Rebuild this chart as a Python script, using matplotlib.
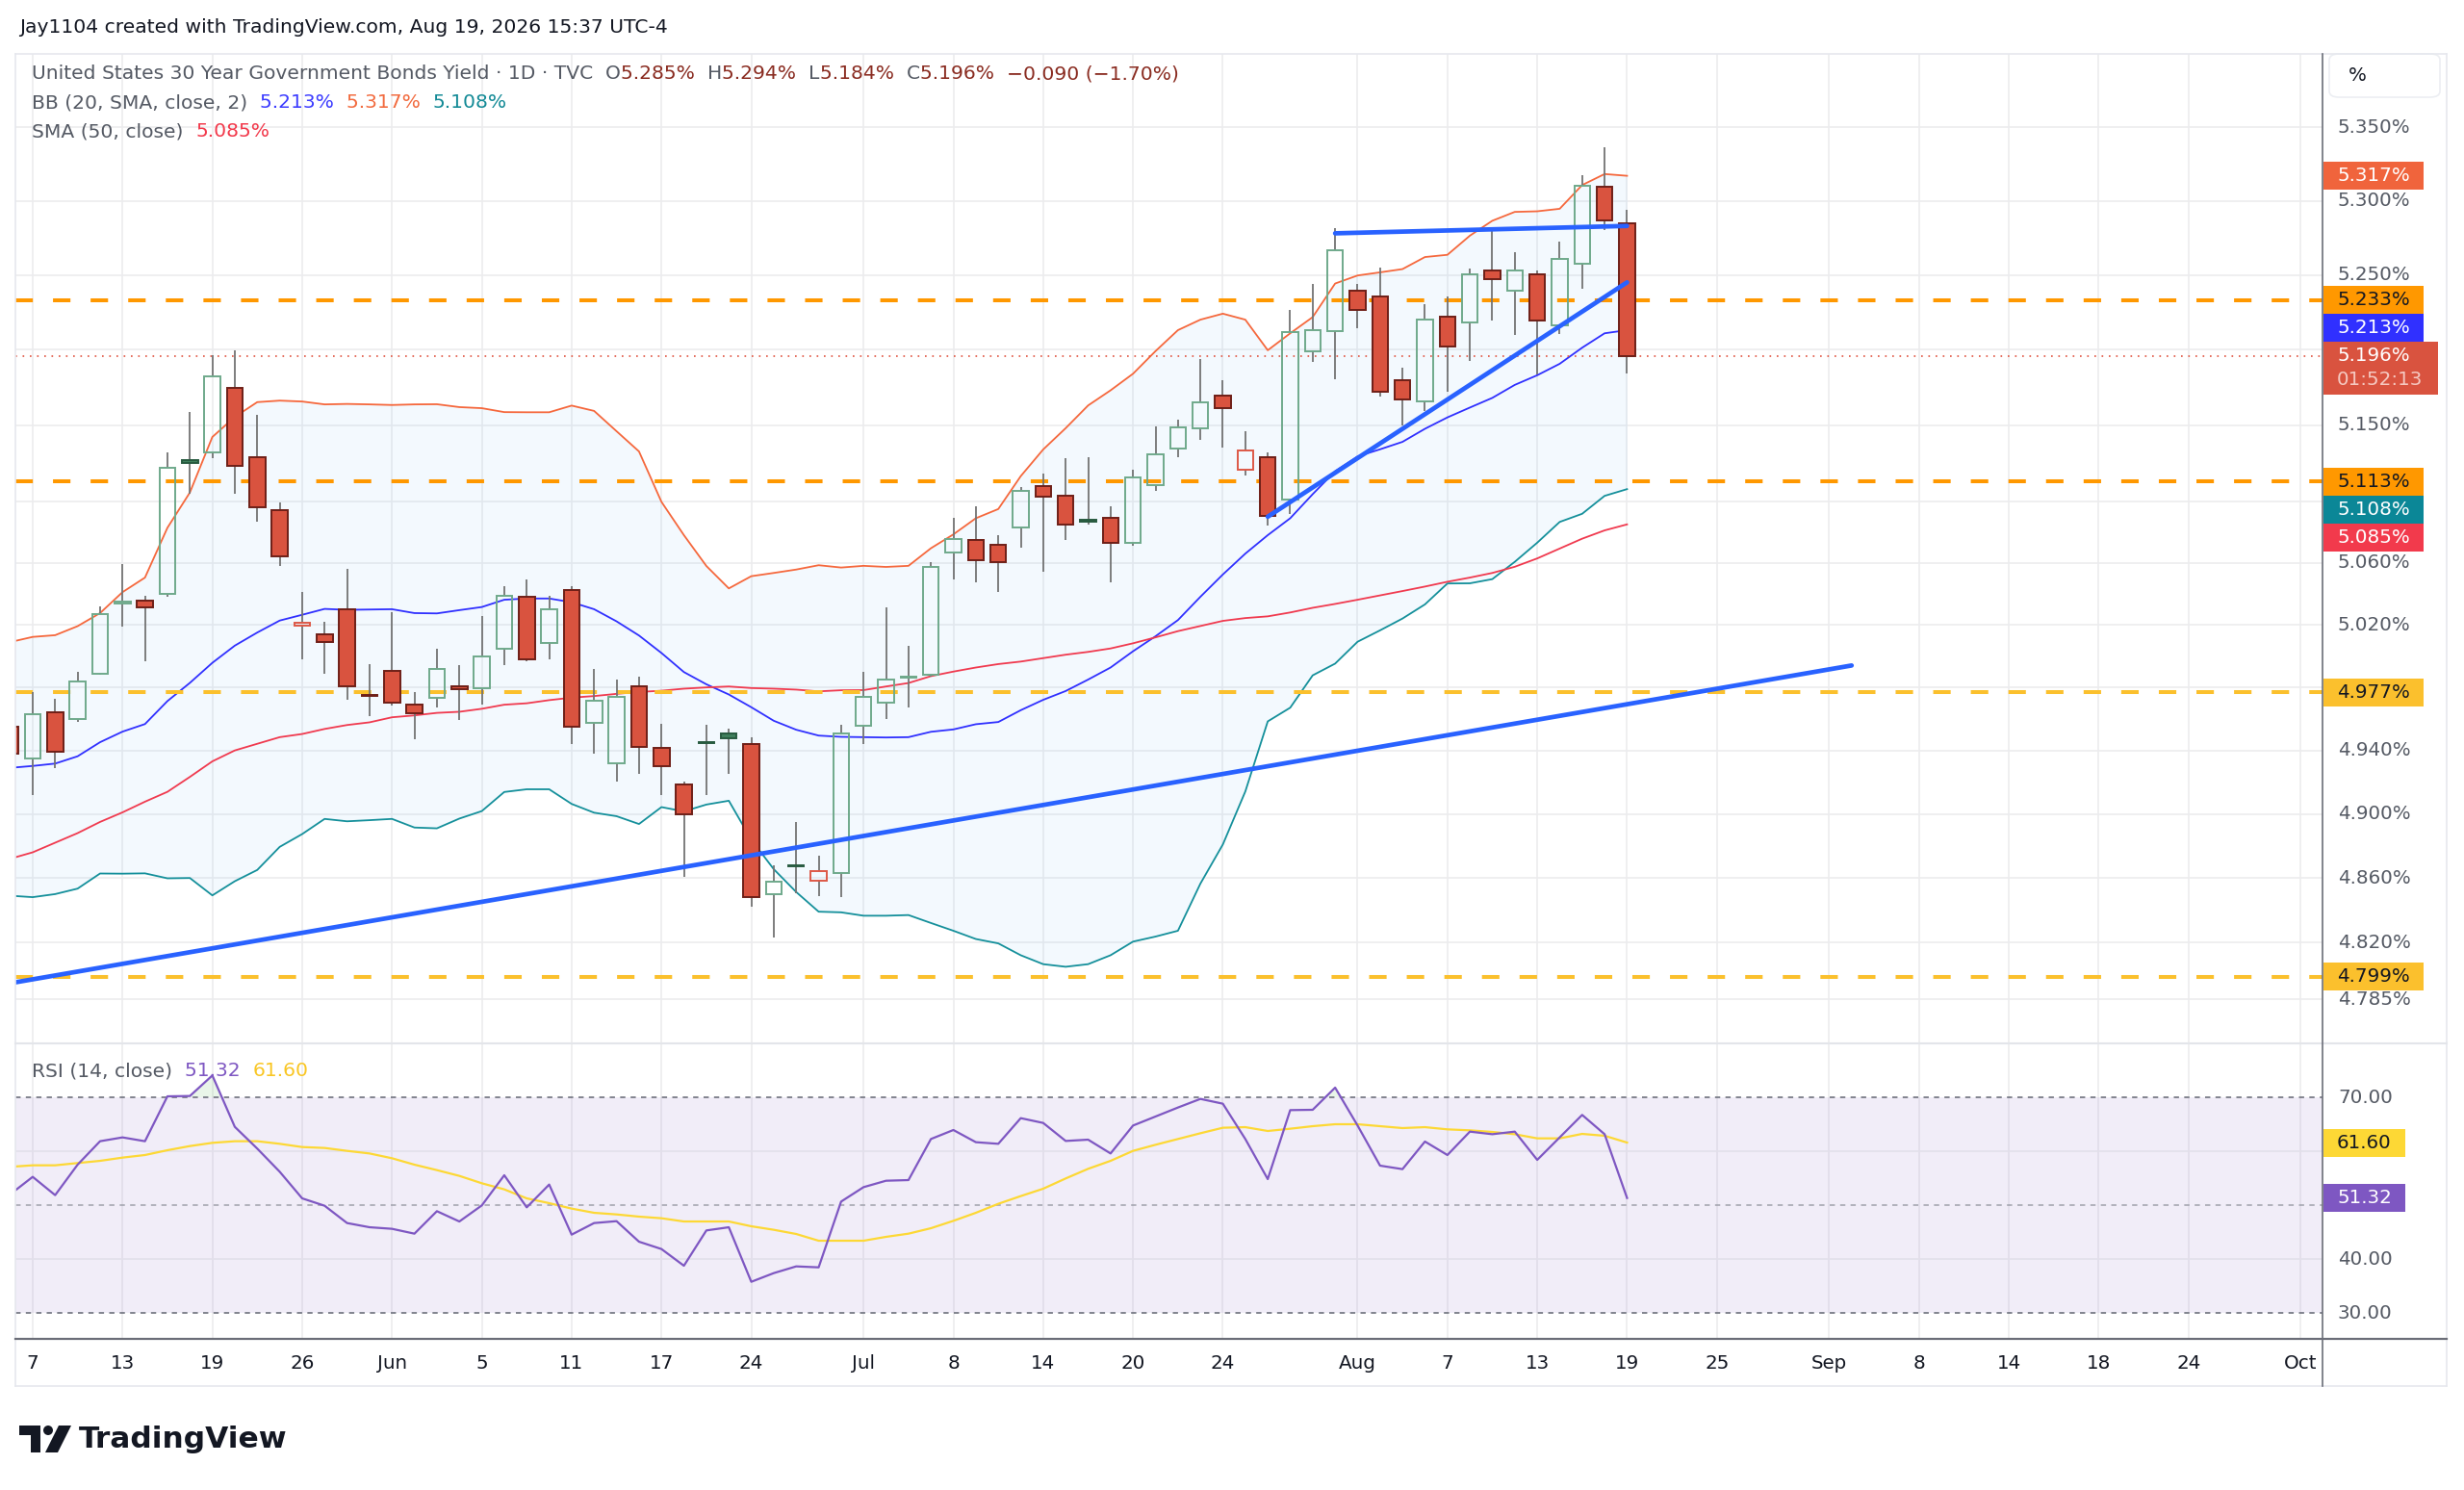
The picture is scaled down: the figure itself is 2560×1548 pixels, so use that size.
import matplotlib
matplotlib.use("Agg")
import matplotlib.pyplot as plt
from matplotlib.lines import Line2D
from matplotlib.patches import Rectangle, FancyBboxPatch, Ellipse, Polygon
import numpy as np
import pandas as pd

plt.rcParams['font.family'] = ['DejaVu Sans']

# ---------------------------------------------------------------- data
holidays = ["2026-05-25", "2026-06-19", "2026-07-03", "2026-09-07"]
first_bar = "2026-05-06"
last_bar = "2026-08-19"

opens = [4.955, 4.935, 4.964, 4.960, 4.989, 5.034, 5.0355, 5.040, 5.127, 5.132,
         5.1746, 5.129, 5.094, 5.0196, 5.014, 5.030, 4.975, 4.9907, 4.969, 4.9735,
         4.981, 4.9796, 5.0046, 5.038, 5.0087, 5.0427, 4.9576, 4.932, 4.981, 4.9415,
         4.9185, 4.945, 4.9505, 4.944, 4.850, 4.868, 4.8586, 4.863, 4.9557, 4.9706,
         4.986, 4.9879, 5.0665, 5.0747, 5.0718, 5.083, 5.110, 5.104, 5.0878, 5.089,
         5.073, 5.1108, 5.1348, 5.1479, 5.1698, 5.1209, 5.129, 5.1015, 5.1991, 5.2124,
         5.2393, 5.2352, 5.1798, 5.1654, 5.2217, 5.218, 5.2528, 5.2395, 5.2502, 5.2163,
         5.2575, 5.3097, 5.285]
highs = [4.962, 4.977, 4.973, 4.990, 5.032, 5.059, 5.039, 5.132, 5.159, 5.1965,
         5.1996, 5.157, 5.0995, 5.041, 5.022, 5.056, 4.995, 5.028, 4.977, 5.005,
         4.994, 5.0256, 5.045, 5.049, 5.039, 5.045, 4.9918, 4.985, 4.9867, 4.9568,
         4.9205, 4.956, 4.9537, 4.9486, 4.8676, 4.895, 4.8737, 4.956, 4.990, 5.0315,
         5.0067, 5.0603, 5.0895, 5.097, 5.078, 5.1095, 5.118, 5.1285, 5.129, 5.097,
         5.121, 5.1493, 5.1536, 5.1937, 5.180, 5.1458, 5.132, 5.2264, 5.2436, 5.2813,
         5.2436, 5.2549, 5.1878, 5.2303, 5.2356, 5.2543, 5.2796, 5.2652, 5.2528, 5.2721,
         5.3172, 5.3365, 5.294]
lows = [4.930, 4.912, 4.929, 4.958, 4.988, 5.019, 4.997, 5.038, 5.105, 5.128,
        5.105, 5.087, 5.058, 4.998, 4.989, 4.972, 4.9615, 4.9686, 4.947, 4.967,
        4.959, 4.969, 4.994, 4.997, 4.998, 4.944, 4.938, 4.9205, 4.925, 4.912,
        4.861, 4.912, 4.925, 4.842, 4.823, 4.8507, 4.849, 4.848, 4.944, 4.960,
        4.967, 4.987, 5.049, 5.0477, 5.0415, 5.070, 5.054, 5.075, 5.0847, 5.0477,
        5.071, 5.107, 5.1289, 5.1401, 5.1352, 5.1169, 5.0843, 5.0918, 5.192, 5.1805,
        5.2146, 5.169, 5.1498, 5.1594, 5.1723, 5.1923, 5.2195, 5.2099, 5.1835, 5.2105,
        5.2406, 5.280, 5.184]
closes = [4.938, 4.963, 4.939, 4.984, 5.027, 5.035, 5.031, 5.122, 5.125, 5.1825,
          5.123, 5.096, 5.064, 5.0213, 5.009, 4.981, 4.9745, 4.9706, 4.9636, 4.992,
          4.979, 4.9995, 5.039, 4.9977, 5.030, 4.955, 4.9714, 4.974, 4.942, 4.930,
          4.900, 4.9445, 4.948, 4.848, 4.858, 4.867, 4.8645, 4.951, 4.974, 4.985,
          4.987, 5.0576, 5.0754, 5.062, 5.0603, 5.1068, 5.103, 5.085, 5.087, 5.073,
          5.1157, 5.1307, 5.1487, 5.1648, 5.161, 5.1335, 5.0908, 5.212, 5.213, 5.2667,
          5.2264, 5.1723, 5.1669, 5.2202, 5.2019, 5.2502, 5.247, 5.2528, 5.2195, 5.2609,
          5.3103, 5.2865, 5.196]
bb_upper = [5.009, 5.0123, 5.0134, 5.0192, 5.0276, 5.0411, 5.0505, 5.0828, 5.1058, 5.1422,
            5.1554, 5.1652, 5.1662, 5.1656, 5.1637, 5.164, 5.1637, 5.1633, 5.1637, 5.1638,
            5.1619, 5.1612, 5.1586, 5.1585, 5.1585, 5.1629, 5.1594, 5.146, 5.1327, 5.0997,
            5.078, 5.058, 5.0435, 5.0514, 5.0535, 5.0557, 5.0585, 5.057, 5.0581, 5.0574,
            5.0581, 5.0695, 5.0785, 5.089, 5.095, 5.1165, 5.134, 5.148, 5.163, 5.173,
            5.184, 5.199, 5.213, 5.220, 5.224, 5.220, 5.1996, 5.2109, 5.2217, 5.2442,
            5.2496, 5.2517, 5.2539, 5.262, 5.2635, 5.2764, 5.2865, 5.2925, 5.2929, 5.2946,
            5.3107, 5.3182, 5.317]
bb_basis = [4.929, 4.9302, 4.9317, 4.9363, 4.9452, 4.9519, 4.9567, 4.9713, 4.9829, 4.9957,
            5.0067, 5.0151, 5.0228, 5.0265, 5.0303, 5.0297, 5.0299, 5.0301, 5.0276, 5.0274,
            5.0295, 5.0315, 5.0362, 5.037, 5.037, 5.0346, 5.0301, 5.0223, 5.0132, 5.002,
            4.9898, 4.982, 4.9755, 4.9674, 4.9588, 4.9531, 4.9494, 4.9486, 4.9484, 4.9482,
            4.9484, 4.9518, 4.9533, 4.9566, 4.958, 4.9655, 4.9721, 4.9777, 4.985, 4.9927,
            5.0031, 5.0127, 5.0231, 5.0381, 5.0525, 5.066, 5.078, 5.089, 5.1047, 5.1197,
            5.1294, 5.1341, 5.139, 5.1476, 5.1551, 5.1616, 5.168, 5.1766, 5.183, 5.1906,
            5.2013, 5.2109, 5.213]
bb_lower = [4.849, 4.8481, 4.850, 4.8534, 4.8628, 4.8627, 4.8629, 4.8598, 4.860, 4.8492,
            4.858, 4.865, 4.8794, 4.8874, 4.8969, 4.8954, 4.8961, 4.8969, 4.8915, 4.891,
            4.8971, 4.9018, 4.9138, 4.9155, 4.9155, 4.9063, 4.9008, 4.8986, 4.8937, 4.9043,
            4.9016, 4.9059, 4.9083, 4.8839, 4.8655, 4.8513, 4.8391, 4.8387, 4.8366, 4.8366,
            4.837, 4.8321, 4.8273, 4.8222, 4.8195, 4.8122, 4.8067, 4.8051, 4.8067, 4.8122,
            4.8206, 4.8237, 4.8273, 4.8565, 4.8809, 4.9141, 4.9584, 4.9671, 4.9877, 4.9952,
            5.0092, 5.0165, 5.0241, 5.0332, 5.0467, 5.0468, 5.0495, 5.0607, 5.0731, 5.0866,
            5.0919, 5.1036, 5.108]
sma50 = [4.872, 4.876, 4.882, 4.888, 4.895, 4.901, 4.9077, 4.9139, 4.9233, 4.9331,
         4.940, 4.9442, 4.9484, 4.9504, 4.9536, 4.9561, 4.9578, 4.961, 4.9622, 4.9638,
         4.9645, 4.9664, 4.969, 4.9699, 4.9719, 4.9735, 4.9745, 4.9759, 4.9771, 4.9779,
         4.9792, 4.980, 4.9806, 4.9796, 4.9792, 4.9786, 4.9775, 4.9782, 4.9783, 4.9806,
         4.9828, 4.9872, 4.9901, 4.9927, 4.9949, 4.9965, 4.9987, 5.0009, 5.0027, 5.0049,
         5.0082, 5.012, 5.016, 5.0193, 5.0226, 5.0244, 5.0255, 5.028, 5.031, 5.0335,
         5.0362, 5.039, 5.0418, 5.0447, 5.0478, 5.0505, 5.0535, 5.0575, 5.0629, 5.0693,
         5.0757, 5.0811, 5.085]
rsi = [52.0, 55.24, 51.85, 57.5, 61.85, 62.56, 61.85, 70.18, 70.24, 74.05,
       64.52, 60.48, 56.19, 51.25, 49.88, 46.67, 45.89, 45.6, 44.7, 48.87,
       46.96, 49.94, 55.54, 49.58, 53.81, 44.52, 46.67, 47.02, 43.21, 41.85,
       38.75, 45.3, 45.89, 35.77, 37.38, 38.63, 38.45, 50.65, 53.33, 54.52,
       54.64, 62.26, 63.93, 61.67, 61.37, 66.13, 65.24, 61.9, 62.14, 59.58,
       64.76, 66.43, 68.1, 69.7, 68.81, 62.26, 54.82, 67.62, 67.68, 71.79,
       64.76, 57.32, 56.67, 61.79, 59.29, 63.63, 63.15, 63.63, 58.39, 62.56,
       66.73, 63.15, 51.32]
rsi_ma = [57.1, 57.38, 57.38, 57.8, 58.21, 58.81, 59.29, 60.18, 60.95, 61.55,
          61.85, 61.85, 61.37, 60.77, 60.6, 60.06, 59.58, 58.69, 57.5, 56.49,
          55.42, 54.05, 52.92, 51.25, 50.36, 49.35, 48.57, 48.27, 47.86, 47.56,
          46.96, 46.96, 46.96, 46.07, 45.42, 44.64, 43.39, 43.39, 43.39, 44.11,
          44.7, 45.71, 47.08, 48.57, 50.24, 51.67, 53.04, 54.94, 56.73, 58.21,
          60.06, 61.19, 62.26, 63.33, 64.35, 64.46, 63.75, 64.17, 64.64, 65.0,
          65.0, 64.64, 64.29, 64.46, 64.05, 63.87, 63.57, 63.15, 62.38, 62.38,
          63.21, 62.86, 61.6]

levels_orange = [5.233, 5.113]
levels_yellow = [4.977, 4.799]
trend_long_dates = ["2026-05-06", "2026-09-02"]
trend_long_vals = [4.795, 4.994]
trend_top_dates = ["2026-07-31", "2026-08-19"]
trend_top_vals = [5.278, 5.283]
trend_rise_dates = ["2026-07-28", "2026-08-19"]
trend_rise_vals = [5.090, 5.245]

price_grid = [5.350, 5.300, 5.250, 5.200, 5.150, 5.100, 5.060, 5.020, 4.980,
              4.940, 4.900, 4.860, 4.820, 4.785]
price_tick_labels = [5.350, 5.300, 5.250, 5.150, 5.060, 5.020,
                     4.940, 4.900, 4.860, 4.820, 4.785]
rsi_grid = [60, 40]
rsi_tick_labels = [70, 40, 30]
date_ticks = ["2026-05-07", "2026-05-13", "2026-05-19", "2026-05-26", "2026-06-01",
              "2026-06-05", "2026-06-11", "2026-06-17", "2026-06-24", "2026-07-01",
              "2026-07-08", "2026-07-14", "2026-07-20", "2026-07-24", "2026-08-03",
              "2026-08-07", "2026-08-13", "2026-08-19", "2026-08-25", "2026-09-01",
              "2026-09-08", "2026-09-14", "2026-09-18", "2026-09-24", "2026-10-01"]
date_labels = ["7", "13", "19", "26", "Jun", "5", "11", "17", "24", "Jul", "8", "14",
               "20", "24", "Aug", "7", "13", "19", "25", "Sep", "8", "14", "18", "24", "Oct"]

last_price = 5.196
countdown = "01:52:13"
bb_last = (5.213, 5.317, 5.108)
sma_last = 5.085
rsi_last = 51.32
rsi_ma_last = 61.60

# ---------------------------------------------------------------- layout helpers
W, H = 2560, 1548
fig = plt.figure(figsize=(W / 100, H / 100), dpi=100)
fig.patch.set_facecolor("white")


def fx(x):
    return x / W


def fy(y):
    return 1 - y / H


cal = pd.bdate_range("2026-05-06", "2026-10-05")
cal = cal[~cal.isin(pd.to_datetime(holidays))]
pos = {d.strftime("%Y-%m-%d"): k for k, d in enumerate(cal)}
bar_dates = [d.strftime("%Y-%m-%d") for d in cal if first_bar <= d.strftime("%Y-%m-%d") <= last_bar]
x = np.array([pos[d] for d in bar_dates], dtype=float)

L, R = 16, 2413
P_TOP, P_BOT = 56, 1083
R_TOP, R_BOT = 1084, 1391

ax = fig.add_axes([fx(L), fy(P_BOT), fx(R) - fx(L), fy(P_TOP) - fy(P_BOT)])
rax = fig.add_axes([fx(L), fy(R_BOT), fx(R) - fx(L), fy(R_TOP) - fy(R_BOT)])
XL = (pos["2026-05-07"] - 0.77, pos["2026-05-07"] + 101.97)
for a in (ax, rax):
    a.set_xlim(*XL)
    a.set_facecolor("none")
    for s in a.spines.values():
        s.set_visible(False)
    a.set_xticks([])
    a.set_yticks([])

ax.set_yscale("log")
ax.set_ylim(4.7588, 5.4006)
ax.yaxis.set_major_locator(matplotlib.ticker.NullLocator())
ax.yaxis.set_minor_locator(matplotlib.ticker.NullLocator())
rax.set_ylim(25.18, 80)

GRID = "#ececee"
for d in date_ticks:
    ax.axvline(pos[d], color=GRID, lw=1.2, zorder=0)
    rax.axvline(pos[d], color=GRID, lw=1.2, zorder=0)
for v in price_grid:
    ax.axhline(v, color=GRID, lw=1.2, zorder=0)
for v in rsi_grid:
    rax.axhline(v, color="#e2e0ea", lw=1.2, zorder=0.5)

# ---------------------------------------------------------------- Bollinger + SMA
ax.fill_between(x, bb_lower, bb_upper, color="#2196f3", alpha=0.05, lw=0, zorder=0.5)
ax.plot(x, bb_upper, color="#f5683d", lw=1.3, zorder=2)
ax.plot(x, bb_basis, color="#3030ff", lw=1.3, zorder=2)
ax.plot(x, bb_lower, color="#15909b", lw=1.3, zorder=2)
ax.plot(x, sma50, color="#f03a4f", lw=1.3, zorder=2)

# ---------------------------------------------------------------- levels
for v in levels_orange:
    ax.axhline(v, color="#ff9800", lw=2.9, dashes=(4.5, 5.2), zorder=2.5)
for v in levels_yellow:
    ax.axhline(v, color="#fbc02d", lw=2.9, dashes=(4.5, 5.2), zorder=2.5)
ax.axhline(last_price, color="#e0533f", lw=1.2, dashes=(1, 3.5), zorder=2.5)

# ---------------------------------------------------------------- candles
BW = 0.71
WICK = "#737373"
for k in range(len(x)):
    o, h, l, c = opens[k], highs[k], lows[k], closes[k]
    pc = closes[k - 1] if k > 0 else o
    hollow = c >= o
    green = c >= pc
    top, bot = max(o, c), min(o, c)
    ax.vlines(x[k], top, h, color=WICK, lw=1.3, zorder=3)
    ax.vlines(x[k], l, bot, color=WICK, lw=1.3, zorder=3)
    if green and hollow:
        fc, ec = "none", "#6fa98b"
    elif green:
        fc, ec = "#3f7f5c", "#285b40"
    elif hollow:
        fc, ec = "none", "#dd5846"
    else:
        fc, ec = "#d9533f", "#6e1f17"
    ax.add_patch(Rectangle((x[k] - BW / 2, bot), BW, max(top - bot, 1e-5),
                           facecolor=fc, edgecolor=ec, lw=1.4, zorder=4))

# ---------------------------------------------------------------- trend lines
for ds, vs in ((trend_long_dates, trend_long_vals), (trend_top_dates, trend_top_vals),
               (trend_rise_dates, trend_rise_vals)):
    ax.plot([pos[d] for d in ds], vs, color="#2962ff", lw=3.4,
            solid_capstyle="round", zorder=5)

# ---------------------------------------------------------------- RSI pane
rax.axhspan(30, 70, color="#7e57c2", alpha=0.1, lw=0, zorder=0.2)
rax.axhline(70, color="#787b86", lw=1.3, dashes=(3, 3), zorder=1)
rax.axhline(30, color="#787b86", lw=1.3, dashes=(3, 3), zorder=1)
rax.axhline(50, color="#9a9ca6", lw=1.3, dashes=(3, 3), alpha=0.8, zorder=1)
rsi_arr = np.array(rsi)
rax.fill_between(x, 70, rsi_arr, where=rsi_arr > 70, interpolate=True,
                 color="#4caf50", alpha=0.12, lw=0, zorder=0.5)
rax.plot(x, rsi_ma, color="#fdd835", lw=1.6, zorder=2)
rax.plot(x, rsi, color="#7e57c2", lw=1.6, zorder=3)

# ---------------------------------------------------------------- frame lines
def fline(x0, y0, x1, y1, color, lw, z=20):
    fig.add_artist(Line2D([fx(x0), fx(x1)], [fy(y0), fy(y1)], transform=fig.transFigure,
                          color=color, lw=lw, zorder=z))


fline(L, P_TOP, 2542, P_TOP, "#e6e8ee", 1.2)
fline(L, P_TOP, L, 1440, "#e6e8ee", 1.2)
fline(2542, P_TOP, 2542, 1440, "#e6e8ee", 1.2)
fline(L, 1440, 2542, 1440, "#e6e8ee", 1.2)
fline(L, 1083.5, 2542, 1083.5, "#e3e5ea", 1.5)
fline(L, R_BOT, 2542, R_BOT, "#6b6e78", 1.6)
fline(R, P_TOP, R, 1440, "#6b6e78", 1.2)

# ---------------------------------------------------------------- axis labels
TXT = "#131722"
GRAY = "#555a64"
FS = 14.3
LFS = 14.6


def ypix(a, v):
    return H - a.transData.transform((XL[0], v))[1]


def xpix(a, k):
    return a.transData.transform((k, 50))[0]


for v in price_tick_labels:
    fig.text(fx(2429), fy(ypix(ax, v)), f"{v:.3f}%", color=GRAY, fontsize=FS,
             va="center", ha="left", zorder=5)
for v in rsi_tick_labels:
    fig.text(fx(2429), fy(ypix(rax, v)), f"{v:.2f}", color=GRAY, fontsize=FS,
             va="center", ha="left", zorder=5)
for d, lab in zip(date_ticks, date_labels):
    fig.text(fx(xpix(ax, pos[d])), fy(1417), lab, color=TXT, fontsize=FS,
             va="center", ha="center", zorder=5)

# % box
fig.add_artist(FancyBboxPatch((fx(2420), fy(101)), fx(2535) - fx(2420), (101 - 56) / H,
                              boxstyle="round,pad=0,rounding_size=0.004",
                              transform=fig.transFigure, facecolor="white",
                              edgecolor="#eceef2", lw=1.2, zorder=6))
fig.text(fx(2440), fy(79), "%", color=TXT, fontsize=FS, va="center", ha="left", zorder=7)


# colored value boxes on the price scale
def vbox(yc, text, fc, tc, h=29, x1=2518, sub=None):
    top = yc - h / 2
    hh = h
    if sub is not None:
        hh = 55
        top = yc - 15
        x1 = 2533
    fig.add_artist(Rectangle((fx(2414), fy(top + hh)), fx(x1) - fx(2414), hh / H,
                             transform=fig.transFigure, facecolor=fc, edgecolor="none",
                             zorder=10))
    fig.text(fx(2428), fy(yc), text, color=tc, fontsize=FS, va="center", ha="left", zorder=11)
    if sub is not None:
        fig.text(fx(2428), fy(yc + 25), sub, color="#f5c9c1", fontsize=FS, va="center",
                 ha="left", zorder=11)


# resolve overlaps around the fixed last-price box
lp_y = ypix(ax, last_price)
lp_top, lp_bot = lp_y - 15, lp_y + 40
items = [(bb_last[1], "#f0643c", "white"), (levels_orange[0], "#ff9800", TXT),
         (bb_last[0], "#3030ff", "white"), (levels_orange[1], "#ff9800", TXT),
         (bb_last[2], "#0b8797", "white"), (sma_last, "#f23a4c", "white"),
         (levels_yellow[0], "#fbc02d", TXT), (levels_yellow[1], "#fbc02d", TXT)]
placed = []
above = sorted([it for it in items if it[0] > last_price], key=lambda t: t[0])
below = sorted([it for it in items if it[0] < last_price], key=lambda t: -t[0])
limit = lp_top
for v, fc, tc in above:
    yc = ypix(ax, v)
    if yc + 14.5 > limit:
        yc = limit - 14.5
    placed.append((yc, v, fc, tc))
    limit = yc - 14.5
limit = lp_bot
for v, fc, tc in below:
    yc = ypix(ax, v)
    if yc - 14.5 < limit:
        yc = limit + 14.5
    placed.append((yc, v, fc, tc))
    limit = yc + 14.5
for yc, v, fc, tc in placed:
    vbox(yc, f"{v:.3f}%", fc, tc)
vbox(lp_y, f"{last_price:.3f}%", "#d9533f", "white", sub=countdown)

vbox(ypix(rax, rsi_ma_last), f"{rsi_ma_last:.2f}", "#fdd835", TXT, x1=2499)
vbox(ypix(rax, rsi_last), f"{rsi_last:.2f}", "#7e57c2", "white", x1=2499)

# ---------------------------------------------------------------- legends
renderer = fig.canvas.get_renderer()


def seq(x0, y0, parts, size=LFS):
    xx = x0
    for txt, col in parts:
        t = fig.text(fx(xx), fy(y0), txt, color=col, fontsize=size, va="center",
                     ha="left", zorder=8)
        xx += t.get_window_extent(renderer=renderer).width


fig.text(fx(20), fy(28), "Jay1104 created with TradingView.com, Aug 19, 2026 15:37 UTC-4",
         color=TXT, fontsize=LFS, va="center", ha="left")

VR = "#8a2c21"
seq(33, 77, [("United States 30 Year Government Bonds Yield · 1D · TVC  ", GRAY),
             ("O", GRAY), ("5.285%  ", VR), ("H", GRAY), ("5.294%  ", VR),
             ("L", GRAY), ("5.184%  ", VR), ("C", GRAY), ("5.196%  ", VR),
             ("\u22120.090 (\u22121.70%)", VR)])
seq(33, 107, [("BB (20, SMA, close, 2)  ", GRAY), (f"{bb_last[0]:.3f}%  ", "#3d3dff"),
              (f"{bb_last[1]:.3f}%  ", "#f26b3f"), (f"{bb_last[2]:.3f}%", "#138a96")])
seq(33, 137, [("SMA (50, close)  ", GRAY), (f"{sma_last:.3f}%", "#f23a4c")])
seq(33, 1113, [("RSI (14, close)  ", GRAY), (f"{rsi_last:.2f}  ", "#7e57c2"),
               (f"{rsi_ma_last:.2f}", "#f9c623")])

# ---------------------------------------------------------------- TradingView logo
def fpoly(pts, color):
    fig.add_artist(Polygon([(fx(a), fy(b)) for a, b in pts], closed=True,
                           transform=fig.transFigure, facecolor=color, edgecolor="none"))


fpoly([(20, 1481), (42, 1481), (42, 1509), (32, 1509), (32, 1491), (20, 1491)], TXT)
fig.add_artist(Ellipse((fx(50), fy(1486)), 10 / W, 10 / H, transform=fig.transFigure,
                       facecolor=TXT, edgecolor="none"))
fpoly([(61, 1481), (74, 1481), (60, 1509), (47, 1509)], TXT)
fig.text(fx(82), fy(1495), "TradingView", color=TXT, fontsize=22.5, fontweight="bold",
         va="center", ha="left")

fig.savefig("out.png", dpi=100, facecolor="white")
